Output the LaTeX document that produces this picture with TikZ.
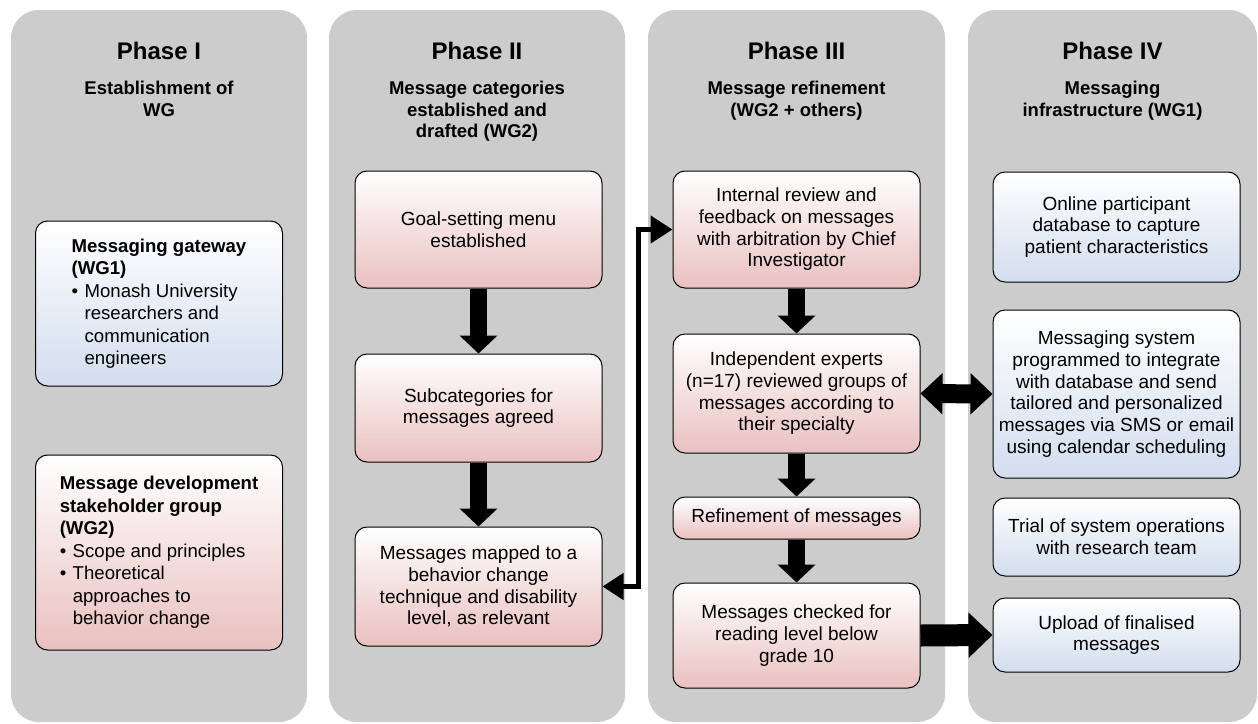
\documentclass[tikz,border=0pt]{standalone}
\usepackage{fontspec}
\setmainfont{Liberation Sans}
\usetikzlibrary{arrows.meta}
\definecolor{panelgris}{RGB}{204,204,204}
\definecolor{rosa}{RGB}{234,192,192}
\definecolor{celeste}{RGB}{210,221,238}
\newcommand{\bulletpt}{\makebox[13pt][l]{\textbullet}}
\newcommand{\hangpt}{\hspace*{13pt}}
\tikzset{
 panel/.style={fill=panelgris, draw=none, rounded corners=28pt},
 phasetitle/.style={font=\fontsize{24}{28}\selectfont\bfseries, inner sep=0pt},
 phasesub/.style={font=\fontsize{18.5}{21.5}\selectfont\bfseries, align=center, anchor=north, inner sep=0pt},
 caja/.style={draw=black, line width=1pt, rounded corners=12pt, minimum width=247pt, inner sep=0pt, align=center, font=\fontsize{19}{21.7}\selectfont},
 cajarosa/.style={caja, top color=white, bottom color=rosa},
 cajaazul/.style={caja, top color=white, bottom color=celeste},
 bloque/.style={line width=17pt, -{Triangle[length=18pt,width=37pt]}},
 doble/.style={line width=19pt, {Triangle[length=22pt,width=40pt]}-{Triangle[length=22pt,width=40pt]}},
 ancha/.style={line width=22pt, -{Triangle[length=24pt,width=44pt]}},
 enlace/.style={line width=4.5pt, {Triangle[length=21pt,width=26pt]}-{Triangle[length=22pt,width=27pt]}}
}
\begin{document}
\begin{tikzpicture}[x=1pt,y=-1pt]
 \useasboundingbox (0,0) rectangle (1258,723);
 % columnas grises
 \foreach \xa/\xb in {11/307, 329/625, 648/945, 968/1257}
  \fill[panel] (\xa,10) rectangle (\xb,722);
 \node[phasetitle] (t1) at (159,51) {Phase I};
 \node[phasetitle] (t2) at (477,51) {Phase II};
 \node[phasetitle] (t3) at (796.5,51) {Phase III};
 \node[phasetitle] (t4) at (1112.5,51) {Phase IV};
 \node[phasesub] (s1) at (159,81) {Establishment of\\WG};
 \node[phasesub] (s2) at (477,81) {Message categories\\established and\\drafted (WG2)};
 \node[phasesub] (s3) at (796.5,81) {Message refinement\\(WG2 + others)};
 \node[phasesub] (s4) at (1112.5,81) {Messaging\\infrastructure (WG1)};
 % Phase I
 \node[cajaazul, minimum height=165pt, align=left, font=\fontsize{18.6}{22.5}\selectfont] (p1a) at (159,303.5)
  {\textbf{Messaging gateway}\\\textbf{(WG1)}\\\bulletpt Monash University\\\hangpt researchers and\\\hangpt communication\\\hangpt engineers};
 \node[cajarosa, minimum height=195pt, align=left, font=\fontsize{18.6}{22.5}\selectfont] (p1b) at (159,552.5)
  {\textbf{Message development}\\\textbf{stakeholder group}\\\textbf{(WG2)}\\\bulletpt Scope and principles\\\bulletpt Theoretical\\\hangpt approaches to\\\hangpt behavior change};
 % Phase II
 \node[cajarosa, minimum height=117pt] (p2a) at (478.5,229.5) {Goal-setting menu\\established};
 \node[cajarosa, minimum height=108pt] (p2b) at (478.5,408) {Subcategories for\\messages agreed};
 \node[cajarosa, minimum height=119pt] (p2c) at (478.5,586.5) {Messages mapped to a\\behavior change\\technique and disability\\level, as relevant};
 % Phase III
 \node[cajarosa, minimum height=117pt] (p3a) at (796.5,229.5) {Internal review and\\feedback on messages\\with arbitration by Chief\\Investigator};
 \node[cajarosa, minimum height=119pt] (p3b) at (796.5,393.5) {Independent experts\\(n=17) reviewed groups of\\messages according to\\their specialty};
 \node[cajarosa, minimum height=42pt] (p3c) at (796.5,518) {Refinement of messages};
 \node[cajarosa, minimum height=105pt] (p3d) at (796.5,635.5) {Messages checked for\\reading level below\\grade 10};
 % Phase IV
 \node[cajaazul, minimum height=110pt] (p4a) at (1116.5,227) {Online participant\\database to capture\\patient characteristics};
 \node[cajaazul, minimum height=168pt] (p4b) at (1116.5,394) {Messaging system\\programmed to integrate\\with database and send\\tailored and personalized\\messages via SMS or email\\using calendar scheduling};
 \node[cajaazul, minimum height=78pt] (p4c) at (1116.5,537) {Trial of system operations\\with research team};
 \node[cajaazul, minimum height=74pt] (p4d) at (1116.5,635) {Upload of finalised\\messages};
 % flechas
 \draw[bloque] (p2a.south) -- (p2b.north);
 \draw[bloque] (p2b.south) -- (p2c.north);
 \draw[bloque] (p3a.south) -- (p3b.north);
 \draw[bloque] (p3b.south) -- (p3c.north);
 \draw[bloque] (p3c.south) -- (p3d.north);
 \draw[doble] (p3b.east) -- (p4b.west);
 \draw[ancha] (p3d.east) -- (p4d.west);
 \draw[enlace] (p2c.east) -- ++(36,0) |- (p3a.west);
\end{tikzpicture}
\end{document}
